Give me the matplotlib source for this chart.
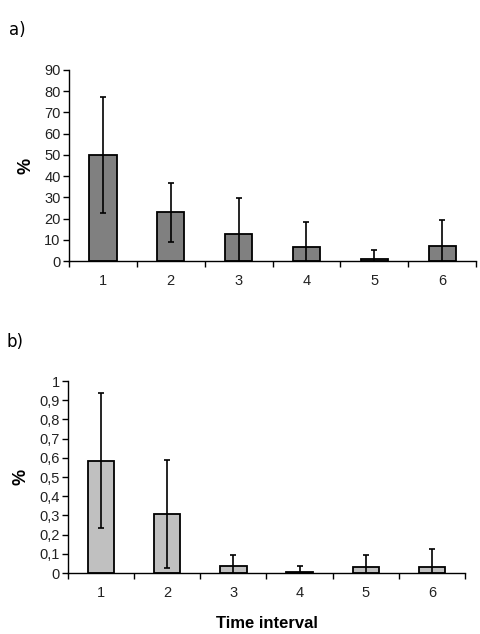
import matplotlib
matplotlib.use("Agg")
import matplotlib.pyplot as plt
import numpy as np

categories = ["1", "2", "3", "4", "5", "6"]
a_values = [50.0, 22.9, 12.7, 6.4, 1.1, 6.9]
a_errors = [27.5, 13.8, 17.0, 11.8, 3.9, 12.3]
b_values = [0.585, 0.307, 0.036, 0.007, 0.029, 0.029]
b_errors = [0.352, 0.283, 0.059, 0.029, 0.066, 0.096]
a_yticks = [0, 10, 20, 30, 40, 50, 60, 70, 80, 90]
b_yticks = [0, 0.1, 0.2, 0.3, 0.4, 0.5, 0.6, 0.7, 0.8, 0.9, 1.0]
b_yticklabels = ["0", "0,1", "0,2", "0,3", "0,4", "0,5", "0,6", "0,7", "0,8", "0,9", "1"]

plt.rcParams['font.family'] = ['Liberation Sans', 'DejaVu Sans']

fig = plt.figure(figsize=(4.81, 6.34), dpi=100)

def panel(rect, values, errors, color, yticks, yticklabels, ymax):
    ax = fig.add_axes(rect)
    x = np.arange(1, len(values) + 1)
    ax.bar(x, values, width=0.4, color=color, edgecolor='black', linewidth=1.3, zorder=2)
    ax.errorbar(x, values, yerr=errors, fmt='none', ecolor='black', elinewidth=1.2,
                capsize=2.5, capthick=1.2, zorder=3)
    ax.set_xlim(0.5, len(values) + 0.5)
    ax.set_ylim(0, ymax)
    ax.set_yticks(yticks)
    ax.set_yticklabels(yticklabels, fontsize=10.5, color='#222222')
    ax.set_xticks(x)
    ax.set_xticklabels(categories, fontsize=10.5, color='#222222')
    ax.set_xticks(np.arange(0.5, len(values) + 1, 1.0), minor=True)
    ax.tick_params(axis='x', which='major', length=0, pad=9)
    ax.tick_params(axis='x', which='minor', length=4, width=1, direction='out')
    ax.tick_params(axis='y', length=4, width=1, direction='out', pad=2)
    for s in ['top', 'right']:
        ax.spines[s].set_visible(False)
    for s in ['left', 'bottom']:
        ax.spines[s].set_linewidth(1.0)
    ax.set_ylabel('%', fontsize=13, fontweight='bold', labelpad=7)
    return ax

ax1 = panel([0.1435, 0.5883, 0.8461, 0.3013], a_values, a_errors, '#808080',
            a_yticks, [str(v) for v in a_yticks], 90)
ax2 = panel([0.1414, 0.0962, 0.8253, 0.3028], b_values, b_errors, '#c0c0c0',
            b_yticks, b_yticklabels, 1.0)
ax2.set_xlabel('Time interval', fontsize=12, fontweight='bold', labelpad=12)

fig.text(0.018, 0.952, 'a)', fontsize=12, family='DejaVu Sans', va='center')
fig.text(0.014, 0.46, 'b)', fontsize=12, family='DejaVu Sans', va='center')

fig.savefig('out.png', dpi=100)
